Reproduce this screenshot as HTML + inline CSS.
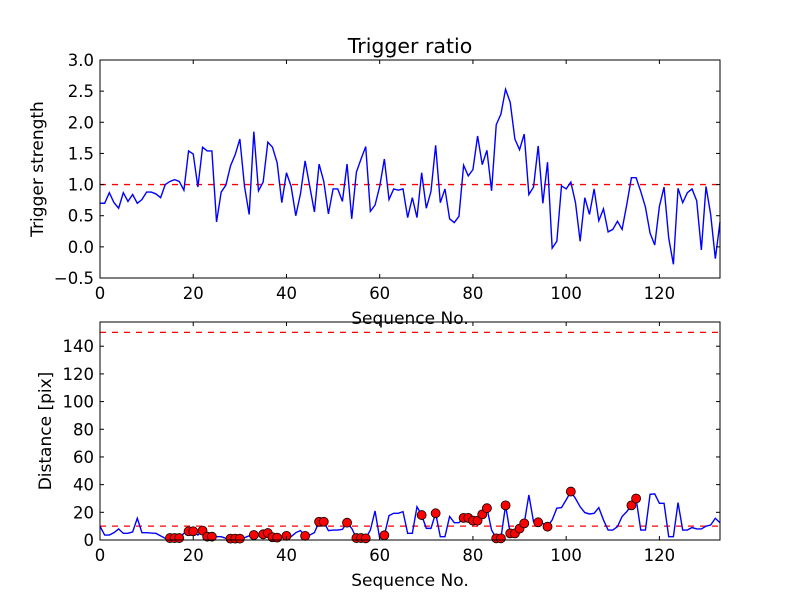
<!DOCTYPE html>
<html><head><meta charset="utf-8"><style>
body{margin:0;background:#fff}
svg{display:block;font-family:"DejaVu Sans","Liberation Sans",sans-serif}
</style></head><body>
<svg id="chart" width="800" height="600" viewBox="0 0 800 600">
<rect width="800" height="600" fill="#fff"/>
<text x="410" y="53" font-size="20.5" text-anchor="middle">Trigger ratio</text>
<g id="top"></g><g id="bot"></g>
</svg>
<script>
const strength=[0.70,0.70,0.87,0.71,0.62,0.87,0.73,0.84,0.70,0.76,0.88,0.88,0.85,0.79,1.0,1.05,1.08,1.05,0.91,1.54,1.49,0.96,1.6,1.54,1.54,0.40,0.88,0.99,1.3,1.48,1.73,0.97,0.52,1.85,0.90,1.04,1.68,1.6,1.35,0.71,1.19,0.97,0.5,0.85,1.38,0.97,0.56,1.33,1.05,0.53,0.93,0.93,0.73,1.33,0.45,1.2,1.41,1.61,0.57,0.67,0.97,1.41,0.76,0.93,0.91,0.93,0.47,0.79,0.47,1.19,0.62,0.89,1.63,0.71,0.93,0.45,0.39,0.49,1.31,1.14,1.24,1.78,1.32,1.55,0.90,1.96,2.13,2.53,2.32,1.73,1.56,1.81,0.84,0.96,1.62,0.70,1.36,-0.02,0.09,0.98,0.93,1.04,0.71,0.09,0.79,0.52,0.93,0.42,0.61,0.24,0.28,0.41,0.28,0.68,1.11,1.11,0.89,0.64,0.22,0.03,0.65,0.96,0.14,-0.28,0.94,0.71,0.87,0.93,0.74,-0.05,0.97,0.52,-0.19,0.40];
const distance=[10,3.6,3.6,5.3,8,4.8,4.8,5.8,15.7,5.3,5.3,5,4.8,3,1.2,1.4,1.4,1.4,4.8,6.3,6.3,3.6,6.8,2.4,2.4,2.4,2.4,1.2,1,1,1,1.7,3,3.6,4.3,4.1,5,2,1.7,2.4,3,2.4,5.3,6.8,3,3.6,5.3,13.2,13.2,6.8,7.2,7.2,7.7,12.5,8.4,1.4,1.4,1.2,7.2,21,1.2,3.4,17.6,19.3,19.3,20.5,4.8,4.8,24,18,8.4,8.4,19.3,2.4,2.4,17,12.5,12.5,16,16,14,14,18.5,23,7.2,1.2,1.2,25,4.8,4.8,8.2,12,32.5,13.2,12.8,12,9.6,14.5,23,23.4,29,35,30,24,19.8,18.8,19.3,23.4,14.5,7.2,7.2,9.6,17,20.5,25,30,7.2,7.2,33,33.3,26.5,26.5,2.4,2.4,27,7.2,7.2,9,8,8,10,10.8,15.7,12.5];
const triggered=[15,16,17,19,20,22,23,24,28,29,30,33,35,36,37,38,40,44,47,48,53,55,56,57,61,69,72,78,79,80,81,82,83,85,86,87,88,89,90,91,94,96,101,114,115];
const xTicks=[0,20,40,60,80,100,120];
const topTicks=[-0.5,0,0.5,1.0,1.5,2.0,2.5,3.0];
const botTicks=[0,20,40,60,80,100,120,140];
const topThreshold=[1.0];
const botThresholds=[10,150];

const NS='http://www.w3.org/2000/svg';
function mk(p,t,a){const e=document.createElementNS(NS,t);for(const k in a)e.setAttribute(k,a[k]);p.appendChild(e);return e;}
function panel(g,top,bot,ymin,ymax,ticks,fmt,ylabel,ys,thr,withDots,name){
  const L=100,R=720,xmax=133;
  const X=v=>L+(R-L)*v/xmax, Y=v=>bot-(bot-top)*(v-ymin)/(ymax-ymin);
  thr.forEach(t=>{const l=mk(g,'line',{x1:L,x2:R,y1:Y(t),y2:Y(t),stroke:'#f00','stroke-width':1.3,'stroke-dasharray':'6,6'});
    
    });
  const pl=mk(g,'polyline',{points:ys.map((v,i)=>X(i)+','+Y(v)).join(' '),fill:'none',stroke:'#00f','stroke-width':1.4});
  
  
  if(withDots){triggered.forEach(i=>{const c=mk(g,'circle',{cx:X(i),cy:Y(ys[i]),r:4.5,fill:'#f00',stroke:'#000','stroke-width':0.8});
    
    });}
  const fr=mk(g,'rect',{x:L,y:top,width:R-L,height:bot-top,fill:'none',stroke:'#000','stroke-width':1});
  
  
  xTicks.forEach(t=>{const x=X(t);mk(g,'line',{x1:x,x2:x,y1:bot,y2:bot-4,stroke:'#000'});mk(g,'line',{x1:x,x2:x,y1:top,y2:top+4,stroke:'#000'});
    const tx=mk(g,'text',{x:x,y:bot+21,'font-size':16.5,'text-anchor':'middle'});tx.textContent=t;
    
    });
  ticks.forEach(t=>{const y=Y(t);mk(g,'line',{x1:L,x2:L+4,y1:y,y2:y,stroke:'#000'});mk(g,'line',{x1:R,x2:R-4,y1:y,y2:y,stroke:'#000'});
    const tx=mk(g,'text',{x:L-6,y:y+6,'font-size':16.5,'text-anchor':'end'});tx.textContent=fmt(t);
    
    });
  const xl=mk(g,'text',{x:410,y:bot+46,'font-size':17,'text-anchor':'middle'});xl.textContent='Sequence No.';
  
  
  const lx=ylabel[1];
  const yl=mk(g,'text',{x:lx,y:(top+bot)/2,'font-size':17,'text-anchor':'middle',transform:'rotate(-90 '+lx+' '+(top+bot)/2+')'});yl.textContent=ylabel[0];
  
  
}
panel(document.getElementById('top'),60,278,-0.5,3.0,topTicks,t=>(t<0?'\u2212':'')+Math.abs(t).toFixed(1),['Trigger strength',43],strength,topThreshold,false,'top');
panel(document.getElementById('bot'),322,540,0,157.5,botTicks,t=>String(t),['Distance [pix]',51],distance,botThresholds,true,'bottom');
</script>
</body></html>
